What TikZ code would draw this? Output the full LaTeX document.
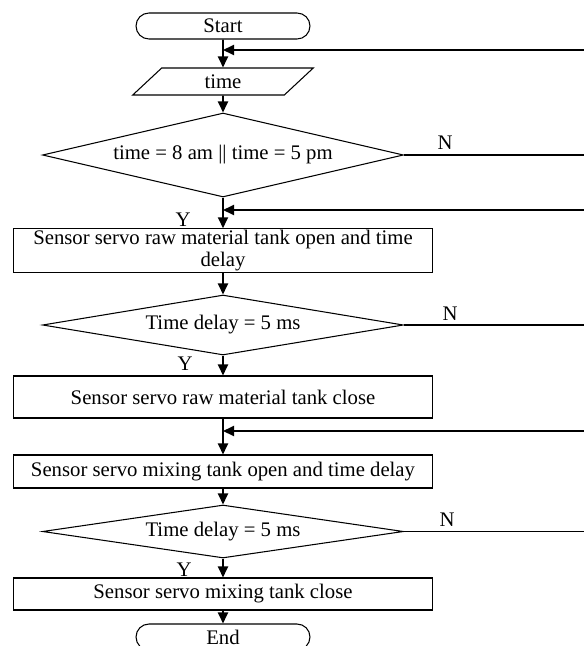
\documentclass[tikz,border=0pt]{standalone}
\usepackage{fontspec}
\setmainfont{Liberation Serif}
\usetikzlibrary{shapes.geometric,shapes.misc,arrows.meta}
\tikzset{
  terminal/.style={rounded rectangle,draw,line width=0.6pt,minimum width=3.48cm,minimum height=0.52cm,inner sep=0pt},
  io/.style={trapezium,trapezium left angle=58,trapezium right angle=122,trapezium stretches=true,draw,line width=0.6pt,minimum width=3.62cm,minimum height=0.54cm,inner sep=0pt},
  decision/.style={diamond,draw,line width=0.6pt,inner sep=0pt,minimum width=7.22cm},
  process/.style={rectangle,draw,line width=0.6pt,minimum width=8.4cm,align=center,inner sep=1pt},
  flow/.style={draw,line width=1.1pt,-{Triangle[length=0.22cm,width=0.2cm]}},
  tag/.style={inner sep=0pt}
}
\begin{document}
\begin{tikzpicture}[x=0.02cm,y=-0.02cm,font=\fontsize{11.8}{12}\selectfont]
    \useasboundingbox (0,0) rectangle (584,646);
    \clip (0,0) rectangle (584,646);
    % boxes
    \node[terminal] (start) at (223,26) {Start};
    \node[io] (time) at (223,81.5) {time};
    \node[decision,aspect=4.3,minimum height=1.68cm] (dec1) at (223,155) {time = 8 am || time = 5 pm};
    \node[process,minimum height=0.82cm] (proc1) at (223,250.5) {Sensor servo raw material tank open and time\\delay};
    \node[decision,aspect=6,minimum height=1.2cm] (dec2) at (223,325) {Time delay = 5 ms};
    \node[process,minimum height=0.84cm] (proc2) at (223,397) {Sensor servo raw material tank close};
    \node[process,minimum height=0.66cm] (proc3) at (223,471.5) {Sensor servo mixing tank open and time delay};
    \node[decision,aspect=6.8,minimum height=1.06cm] (dec3) at (223,531.5) {Time delay = 5 ms};
    \node[process,minimum height=0.64cm] (proc4) at (223,594) {Sensor servo mixing tank close};
    \node[terminal] (stop) at (223,637) {End};
    % joins and loop corners
    \coordinate (j1) at (223,50);
    \coordinate (j2) at (223,210);
    \coordinate (j3) at (223,431);
    \coordinate (b1) at (600,155);
    \coordinate (b2) at (610,325);
    \coordinate (b3) at (620,531.5);
    % labels
    \node[tag] (n1) at (445,143) {N};
    \node[tag] (n2) at (450,314) {N};
    \node[tag] (n3) at (447,520) {N};
    \node[tag] (y1) at (183,220) {Y};
    \node[tag] (y2) at (185,364) {Y};
    \node[tag] (y3) at (184,570) {Y};
    % main flow
    \draw[flow] (start) -- (time);
    \draw[flow] (time) -- (dec1);
    \draw[flow] (dec1) -- (proc1);
    \draw[flow] (proc1) -- (dec2);
    \draw[flow] (dec2) -- (proc2);
    \draw[flow] (proc2) -- (proc3);
    \draw[flow] (proc3) -- (dec3);
    \draw[flow] (dec3) -- (proc4);
    \draw[flow] (proc4) -- (stop);
    % N loops
    \draw[flow] (dec1.east) -- (b1) |- (j1);
    \draw[flow] (dec2.east) -- (b2) |- (j2);
    \draw[flow] (dec3.east) -- (b3) |- (j3);
\end{tikzpicture}
\end{document}
